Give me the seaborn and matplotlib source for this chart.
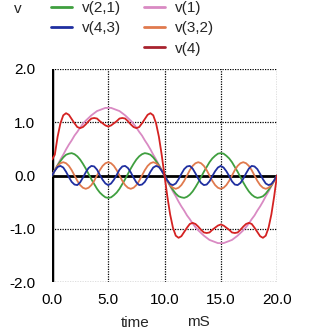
import numpy as np
import pandas as pd
import matplotlib
matplotlib.use("Agg")
import matplotlib.pyplot as plt
import seaborn as sns

# time axis in mS, 0.25 mS steps
time_ms = [i * 0.25 for i in range(81)]

v1 = [0.00, 0.10, 0.20, 0.30, 0.39, 0.49, 0.58, 0.66, 0.75, 0.82,
      0.90, 0.97, 1.03, 1.08, 1.13, 1.17, 1.21, 1.23, 1.25, 1.27,
      1.27, 1.27, 1.25, 1.23, 1.21, 1.17, 1.13, 1.08, 1.03, 0.97,
      0.90, 0.82, 0.75, 0.66, 0.58, 0.49, 0.39, 0.30, 0.20, 0.10,
      0.00, -0.10, -0.20, -0.30, -0.39, -0.49, -0.58, -0.66, -0.75, -0.82,
      -0.90, -0.97, -1.03, -1.08, -1.13, -1.17, -1.21, -1.23, -1.25, -1.27,
      -1.27, -1.27, -1.25, -1.23, -1.21, -1.17, -1.13, -1.08, -1.03, -0.97,
      -0.90, -0.82, -0.75, -0.66, -0.58, -0.49, -0.39, -0.30, -0.20, -0.10,
      0.00]

v21 = [0.00, 0.10, 0.19, 0.27, 0.34, 0.39, 0.41, 0.42, 0.40, 0.36,
       0.30, 0.22, 0.13, 0.03, -0.07, -0.16, -0.25, -0.32, -0.37, -0.41,
       -0.42, -0.41, -0.37, -0.32, -0.25, -0.16, -0.07, 0.03, 0.13, 0.22,
       0.30, 0.36, 0.40, 0.42, 0.41, 0.39, 0.34, 0.27, 0.19, 0.10,
       0.00, -0.10, -0.19, -0.27, -0.34, -0.39, -0.41, -0.42, -0.40, -0.36,
       -0.30, -0.22, -0.13, -0.03, 0.07, 0.16, 0.25, 0.32, 0.37, 0.41,
       0.42, 0.41, 0.37, 0.32, 0.25, 0.16, 0.07, -0.03, -0.13, -0.22,
       -0.30, -0.36, -0.40, -0.42, -0.41, -0.39, -0.34, -0.27, -0.19, -0.10,
       0.00]

v32 = [0.00, 0.10, 0.18, 0.23, 0.25, 0.23, 0.18, 0.10, 0.00, -0.10,
       -0.18, -0.23, -0.25, -0.23, -0.18, -0.10, 0.00, 0.10, 0.18, 0.23,
       0.25, 0.23, 0.18, 0.10, 0.00, -0.10, -0.18, -0.23, -0.25, -0.23,
       -0.18, -0.10, 0.00, 0.10, 0.18, 0.23, 0.25, 0.23, 0.18, 0.10,
       0.00, -0.10, -0.18, -0.23, -0.25, -0.23, -0.18, -0.10, 0.00, 0.10,
       0.18, 0.23, 0.25, 0.23, 0.18, 0.10, 0.00, -0.10, -0.18, -0.23,
       -0.25, -0.23, -0.18, -0.10, 0.00, 0.10, 0.18, 0.23, 0.25, 0.23,
       0.18, 0.10, 0.00, -0.10, -0.18, -0.23, -0.25, -0.23, -0.18, -0.10,
       0.00]

v43 = [0.00, 0.09, 0.16, 0.18, 0.15, 0.07, -0.03, -0.12, -0.17, -0.18,
       -0.13, -0.04, 0.06, 0.14, 0.18, 0.17, 0.11, 0.01, -0.08, -0.15,
       -0.18, -0.15, -0.08, 0.01, 0.11, 0.17, 0.18, 0.14, 0.06, -0.04,
       -0.13, -0.18, -0.17, -0.12, -0.03, 0.07, 0.15, 0.18, 0.16, 0.09,
       0.00, -0.09, -0.16, -0.18, -0.15, -0.07, 0.03, 0.12, 0.17, 0.18,
       0.13, 0.04, -0.06, -0.14, -0.18, -0.17, -0.11, -0.01, 0.08, 0.15,
       0.18, 0.15, 0.08, -0.01, -0.11, -0.17, -0.18, -0.14, -0.06, 0.04,
       0.13, 0.18, 0.17, 0.12, 0.03, -0.07, -0.15, -0.18, -0.16, -0.09,
       0.00]

v4 = [0.30, 0.39, 0.73, 0.98, 1.13, 1.17, 1.14, 1.06, 0.98, 0.91,
      0.89, 0.91, 0.96, 1.02, 1.07, 1.08, 1.07, 1.02, 0.98, 0.94,
      0.92, 0.94, 0.98, 1.02, 1.07, 1.08, 1.07, 1.02, 0.96, 0.91,
      0.89, 0.91, 0.98, 1.06, 1.14, 1.17, 1.13, 0.98, 0.73, 0.39,
      0.00, -0.39, -0.73, -0.98, -1.13, -1.17, -1.14, -1.06, -0.98, -0.91,
      -0.89, -0.91, -0.96, -1.02, -1.07, -1.08, -1.07, -1.02, -0.98, -0.94,
      -0.92, -0.94, -0.98, -1.02, -1.07, -1.08, -1.07, -1.02, -0.96, -0.91,
      -0.89, -0.91, -0.98, -1.06, -1.14, -1.17, -1.13, -0.98, -0.73, -0.39,
      0.00]

series_names = ["v(2,1)", "v(4,3)", "v(1)", "v(3,2)", "v(4)"]
series_values = [v21, v43, v1, v32, v4]
series_colors = ["#3f9f3f", "#1f2fa0", "#d98ac3", "#e07a4e", "#d42222"]

x_ticks = [0.0, 5.0, 10.0, 15.0, 20.0]
x_tick_labels = ["0.0", "5.0", "10.0", "15.0", "20.0"]
y_ticks = [-2.0, -1.0, 0.0, 1.0, 2.0]
y_tick_labels = ["-2.0", "-1.0", "0.0", "1.0", "2.0"]

frames = []
for name, vals in zip(series_names, series_values):
    frames.append(pd.DataFrame({"time": time_ms, "v": vals, "trace": name}))
df = pd.concat(frames, ignore_index=True)

sns.set_theme(style="white")
plt.rcParams["font.family"] = ["Liberation Sans", "DejaVu Sans"]

W = H = 329
fig = plt.figure(figsize=(W / 100, H / 100), dpi=100)
ax = fig.add_axes([52 / W, 1 - 282 / H, 225 / W, 213 / H])

# pink fundamental drawn first, then the harmonics, sum on top
draw_order = ["v(1)", "v(2,1)", "v(3,2)", "v(4,3)", "v(4)"]
palette = dict(zip(series_names, series_colors))
sns.lineplot(data=df, x="time", y="v", hue="trace", hue_order=draw_order,
             palette=palette, ax=ax, linewidth=1.3, legend=False,
             estimator=None, sort=False)
for line in ax.get_lines():
    line.set_zorder(3)
ax.get_lines()[-1].set_zorder(4)

ax.set_xlim(0, 20)
ax.set_ylim(-2, 2)
ax.set_xticks(x_ticks)
ax.set_xticklabels(x_tick_labels)
ax.set_yticks(y_ticks)
ax.set_yticklabels(y_tick_labels)
ax.tick_params(axis="both", length=0, labelsize=11, colors="black")
ax.tick_params(axis="x", pad=8)
ax.tick_params(axis="y", pad=12)
ax.set_xlabel("")
ax.set_ylabel("")

# dotted grid, including the outer frame
for s in ["top", "bottom", "right", "left"]:
    ax.spines[s].set_visible(False)
for xv in [5, 10, 15, 20]:
    ax.axvline(xv, color="black", linestyle=(0, (1, 1)), linewidth=0.9, zorder=1)
for yv in [-2, -1, 1, 2]:
    ax.axhline(yv, color="black", linestyle=(0, (1, 1)), linewidth=0.9, zorder=1)
ax.axhline(0, color="black", linewidth=2.0, zorder=2)
ax.axvline(0, color="black", linewidth=2.5, zorder=2)

fig.text(135 / W, 1 - 323 / H, "time", ha="center", va="center", fontsize=11)
fig.text(198 / W, 1 - 322 / H, "mS", ha="center", va="center", fontsize=11)
fig.text(18 / W, 1 - 9 / H, "v", ha="center", va="center", fontsize=11)

handles = {}
for name, col in zip(series_names, series_colors):
    handles[name] = plt.Line2D([], [], color=col, linewidth=2.0)
handles["v(4)"] = plt.Line2D([], [], color="#a8222e", linewidth=2.0)

leg_kw = dict(frameon=False, fontsize=11, handlelength=1.35, handletextpad=0.7,
              labelspacing=0.42, borderaxespad=0, borderpad=0,
              loc="upper left")
leg1 = fig.legend([handles["v(2,1)"], handles["v(4,3)"]], ["v(2,1)", "v(4,3)"],
                  bbox_to_anchor=(51 / W, 1 - 1 / H), **leg_kw)
leg2 = fig.legend([handles["v(1)"], handles["v(3,2)"], handles["v(4)"]],
                  ["v(1)", "v(3,2)", "v(4)"],
                  bbox_to_anchor=(144 / W, 1 - 1 / H), **leg_kw)

fig.savefig("out.png", dpi=100)
